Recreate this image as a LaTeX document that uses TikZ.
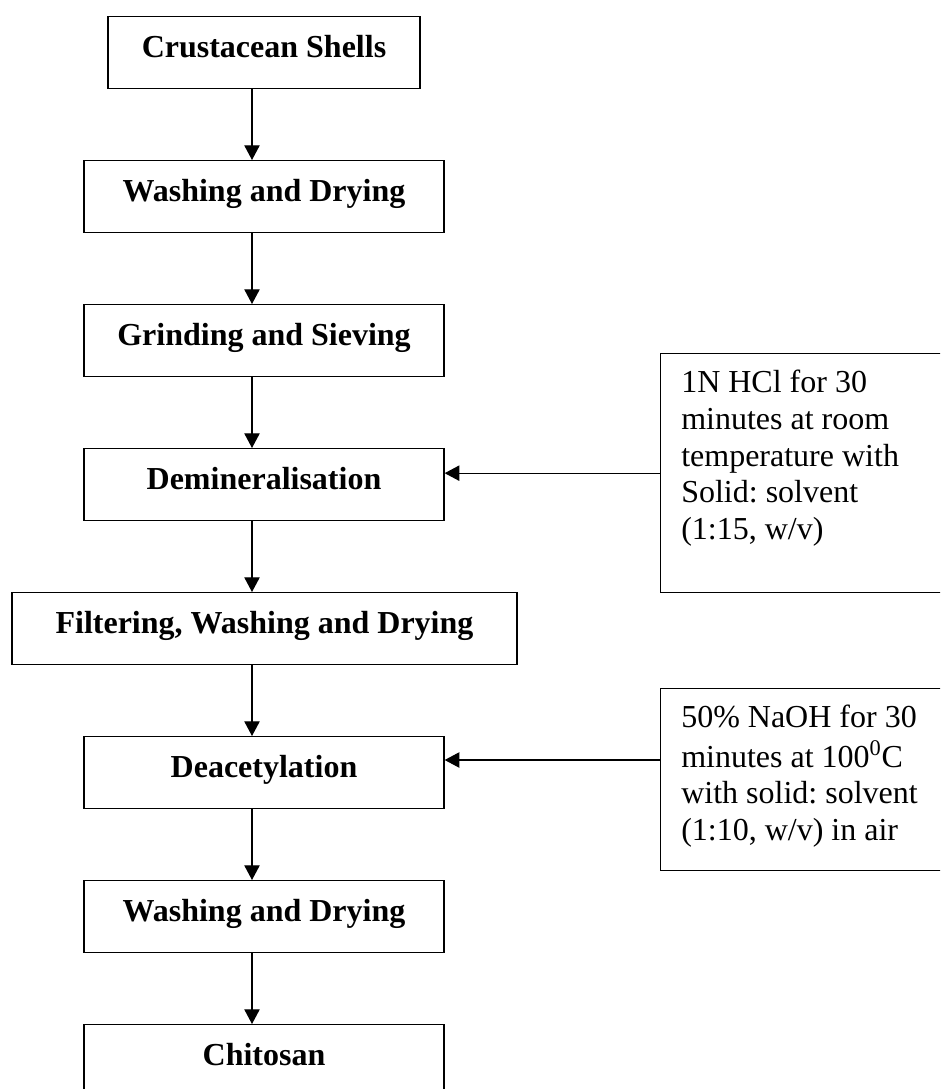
\documentclass[tikz,border=0pt]{standalone}
\usepackage{fontspec}
\setmainfont{Liberation Serif}
\usetikzlibrary{arrows.meta}
\frenchspacing
\begin{document}
\begin{tikzpicture}[x=0.75pt,y=-0.75pt,
  stage/.style={draw,line width=1pt,inner sep=0pt,anchor=north,
    text height=30.75pt,text depth=23.25pt,
    font=\fontsize{24}{27.5}\selectfont\bfseries},
  note/.style={draw,line width=1pt,inner sep=0pt,anchor=north west,minimum width=225pt},
  notetext/.style={inner sep=0pt,anchor=north west,align=left,
    font=\fontsize{24}{27.5}\selectfont},
  flow/.style={line width=0.9pt,-{Triangle[length=11pt,width=11.5pt]}}]
\useasboundingbox (0,0) rectangle (940,1089);
\clip (0,0) rectangle (940,1089);
\coordinate (axis) at (252,0);
% main process chain
\node[stage,minimum width=234pt] (b1) at (264,16) {Crustacean Shells};
\node[stage,minimum width=270pt] (b2) at (264,160) {Washing and Drying};
\node[stage,minimum width=270pt] (b3) at (264,304) {Grinding and Sieving};
\node[stage,minimum width=270pt] (dem) at (264,448) {Demineralisation};
\node[stage,minimum width=378.75pt] (b5) at (264.5,592) {Filtering, Washing and Drying};
\node[stage,minimum width=270pt] (deac) at (264,736) {Deacetylation};
\node[stage,minimum width=270pt] (b7) at (264,880) {Washing and Drying};
\node[stage,minimum width=270pt] (b8) at (264,1024) {Chitosan};
\draw[flow] (b1.south -| axis) -- (b2.north -| axis);
\draw[flow] (b2.south -| axis) -- (b3.north -| axis);
\draw[flow] (b3.south -| axis) -- (dem.north -| axis);
\draw[flow] (dem.south -| axis) -- (b5.north -| axis);
\draw[flow] (b5.south -| axis) -- (deac.north -| axis);
\draw[flow] (deac.south -| axis) -- (b7.north -| axis);
\draw[flow] (b7.south -| axis) -- (b8.north -| axis);
% reagent conditions
\node[note,minimum height=179.25pt] (hcl) at (660,353) {};
\node[notetext] (hcltext) at (681,367) {\strut 1N HCl for 30\\minutes at room\\temperature with\\Solid: solvent\\(1:15, w/v)};
\node[note,minimum height=136.5pt] (naoh) at (660,688) {};
\node[notetext] (naohtext) at (681,702) {\strut 50\% NaOH for 30\\minutes at 100\textsuperscript{0}C\\with solid: solvent\\(1:10, w/v) in air};
\coordinate (naohin) at ([yshift=-54pt]naoh.north west);
\draw[flow] (hcl.west) -- (hcl.west -| dem.east);
\draw[flow] (naohin) -- (naohin -| deac.east);
\end{tikzpicture}
\end{document}
